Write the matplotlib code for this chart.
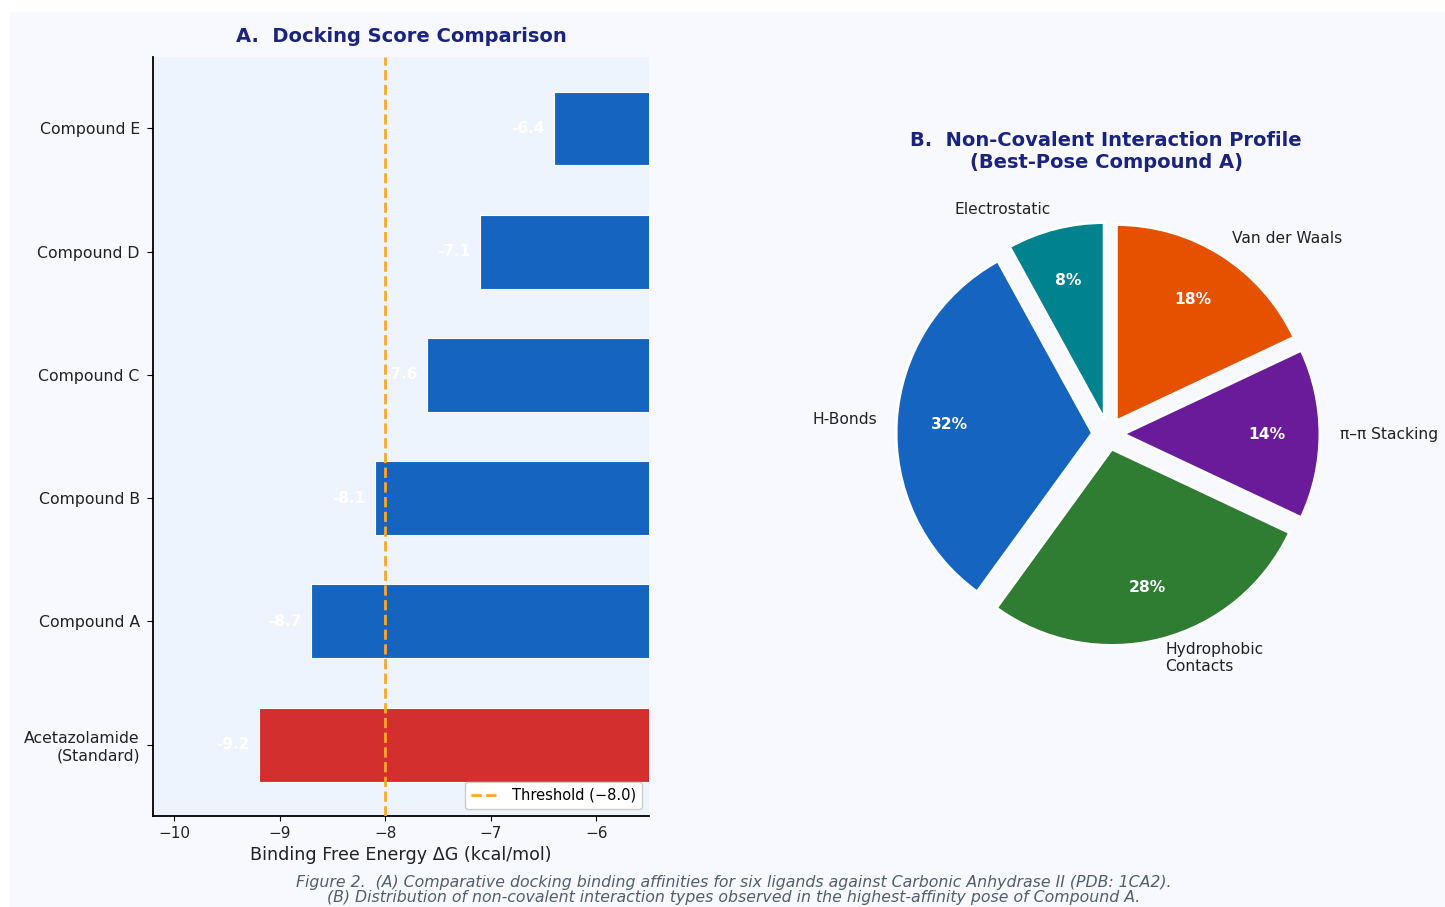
import matplotlib
matplotlib.use("Agg")
import matplotlib.pyplot as plt
from matplotlib.patches import Rectangle

plt.rcParams["font.family"] = ["DejaVu Sans"]

# panel A data
compounds = ["Acetazolamide\n(Standard)", "Compound A", "Compound B",
             "Compound C", "Compound D", "Compound E"]
dock_scores = [-9.2, -8.7, -8.1, -7.6, -7.1, -6.4]
bar_colors = ["#d32f2f", "#1565c0", "#1565c0", "#1565c0", "#1565c0", "#1565c0"]
threshold = -8.0

# panel B data
interactions = ["Electrostatic", "H-Bonds", "Hydrophobic\nContacts",
                "π–π Stacking", "Van der Waals"]
shares = [8, 32, 28, 14, 18]
pie_colors = ["#00838f", "#1565c0", "#2e7d32", "#6a1b9a", "#e65100"]

bg = "#f7f9fe"
ax_bg = "#eef4fd"
navy = "#1a237e"

fig = plt.figure(figsize=(14.45, 9.07), dpi=100, facecolor="white")
fig.patches.append(Rectangle((10 / 1445, 0), 1 - 10 / 1445, 1 - 12 / 907,
                             transform=fig.transFigure, facecolor=bg,
                             edgecolor="none", zorder=-10))

# --- A: docking scores ---
ax1 = fig.add_axes([153 / 1445, 1 - 816 / 907, 496 / 1445, 759 / 907])
ax1.set_facecolor(ax_bg)
y = range(len(compounds))
ax1.barh(y, dock_scores, height=0.6, color=bar_colors,
         edgecolor="white", linewidth=0.8, zorder=2)
for yi, v in zip(y, dock_scores):
    ax1.text(v - 0.09, yi, f"{v:.1f}", ha="right", va="center",
             color="white", fontsize=11, fontweight="bold", zorder=3)
ax1.axvline(threshold, color="#ffa726", linestyle="--", linewidth=2,
            label="Threshold (\u22128.0)", zorder=3)
ax1.set_xlim(-10.2, -5.5)
ax1.set_yticks(list(y))
ax1.set_yticklabels(compounds, fontsize=11.3, color="#222222")
ax1.tick_params(axis="y", length=4.5, pad=5)
ax1.tick_params(axis="x", labelsize=11, labelcolor="#222222")
ax1.set_xlabel("Binding Free Energy \u0394G (kcal/mol)", fontsize=12.6,
               color="#222222")
ax1.set_title("A.  Docking Score Comparison", fontsize=14, fontweight="bold",
              color=navy, pad=11)
for s in ["top", "right"]:
    ax1.spines[s].set_visible(False)
ax1.spines["left"].set_linewidth(1.3)
ax1.spines["bottom"].set_linewidth(1.3)
ax1.legend(loc="lower right", fontsize=10.5, framealpha=1, borderaxespad=0.5)

# --- B: interaction profile ---
ax2 = fig.add_axes([(1108 - 260) / 1445, 1 - (434 + 260) / 907,
                    520 / 1445, 520 / 907])
ax2.set_facecolor(bg)
wedges, texts, autotexts = ax2.pie(
    shares, labels=interactions, colors=pie_colors, startangle=90,
    explode=[0.06] * len(shares), autopct="%d%%", pctdistance=0.73,
    labeldistance=1.1, radius=0.755,
    wedgeprops=dict(edgecolor="white", linewidth=2),
    textprops=dict(fontsize=11.2, color="#222222"))
for t in autotexts:
    t.set_color("white")
    t.set_fontweight("bold")
ax2.set_aspect("equal")
ax2.set_xlim(-1, 1)
ax2.set_ylim(-1, 1)
fig.text(1106 / 1445, 1 - 151 / 907,
         "B.  Non-Covalent Interaction Profile\n(Best-Pose Compound A)",
         ha="center", va="center", fontsize=14, fontweight="bold", color=navy)

fig.text(734 / 1445, 1 - 890 / 907,
         "Figure 2.  (A) Comparative docking binding affinities for six ligands "
         "against Carbonic Anhydrase II (PDB: 1CA2).\n(B) Distribution of "
         "non-covalent interaction types observed in the highest-affinity pose "
         "of Compound A.",
         ha="center", va="center", fontsize=11.3, style="italic",
         color="#4f5f6b", linespacing=0.95)

fig.savefig("out.png", dpi=100, facecolor=fig.get_facecolor())
